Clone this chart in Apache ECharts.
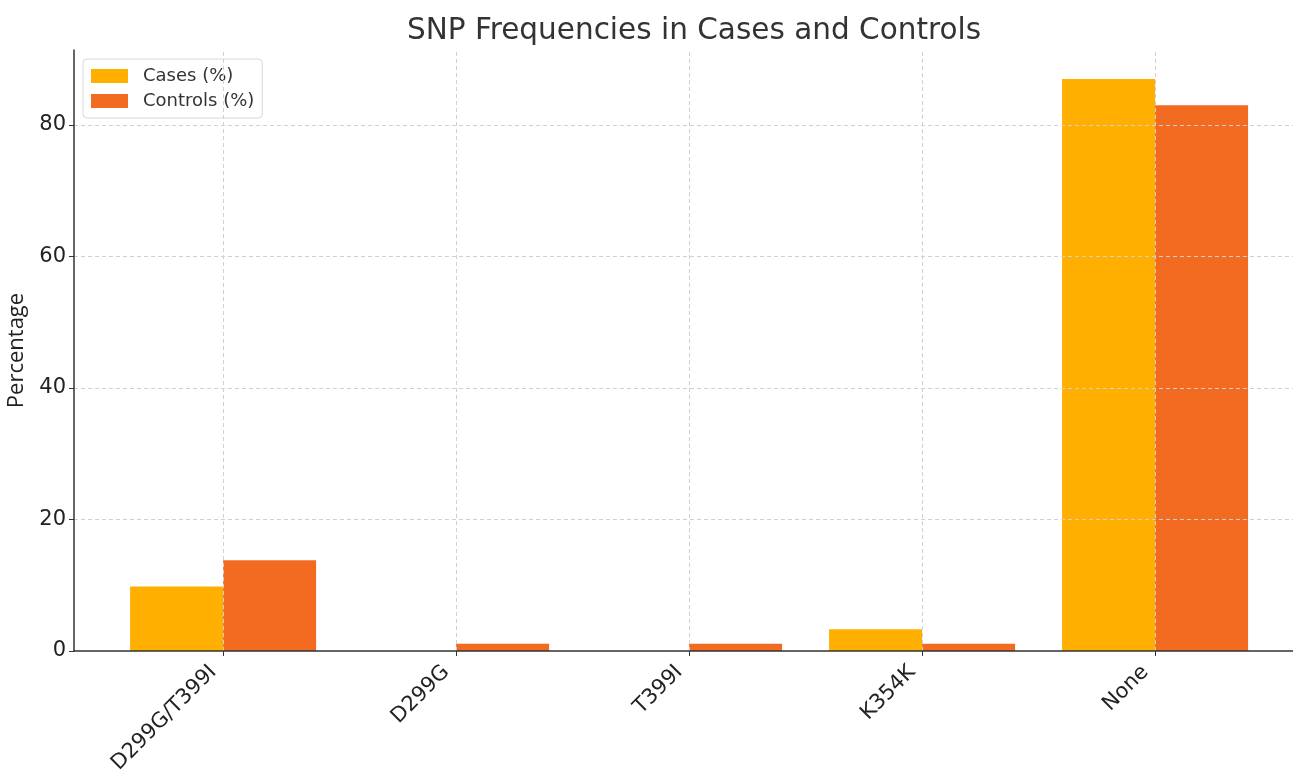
<!DOCTYPE html>
<html><head><meta charset="utf-8">
<script src="https://cdn.jsdelivr.net/npm/echarts@6/dist/echarts.min.js"></script>
<style>html,body{margin:0;padding:0;background:#fff}#c{width:1293px;height:773px}</style>
</head><body><div id="c"></div>
<script>
const categories = ['D299G/T399I', 'D299G', 'T399I', 'K354K', 'None'];
const casesPct = [9.8, 0, 0, 3.3, 87.0];
const controlsPct = [13.8, 1.1, 1.1, 1.1, 83.0];
const yTicks = [0, 20, 40, 60, 80];
const idx = categories.map((_, i) => i);
const F = 'DejaVu Sans';
const GRID = { color: '#d0d0d0', type: [4, 3], width: 1 };
const chart = echarts.init(document.getElementById('c'));
chart.setOption({
  animation: false,
  textStyle: { fontFamily: F },
  title: { text: 'SNP Frequencies in Cases and Controls', left: 689, top: 11, textAlign: 'center',
    textStyle: { fontFamily: F, fontSize: 29.5, fontWeight: 'normal', color: '#333' } },
  legend: { left: 83, top: 59, orient: 'vertical', itemWidth: 37, itemHeight: 14, itemGap: 7,
    icon: 'rect', padding: [8, 8, 8, 8], borderColor: '#d8d8d8', borderWidth: 1, borderRadius: 4,
    textStyle: { fontFamily: F, fontSize: 18, color: '#333', padding: [0, 0, 0, 10] },
    itemStyle: { borderWidth: 0 },
    data: ['Cases (%)', 'Controls (%)'] },
  grid: { left: 74, right: 0, top: 50, bottom: 122, containLabel: false, outerBoundsMode: 'none' },
  xAxis: { type: 'value', min: -0.64, max: 4.592, z: 5,
    axisLine: { onZero: false, lineStyle: { color: '#333', width: 1.5 } },
    axisTick: { show: true, customValues: idx, length: 5, lineStyle: { color: '#333' } },
    axisLabel: { customValues: idx, formatter: v => categories[Math.round(v)], rotate: 45,
      fontSize: 21, color: '#222', fontFamily: F, margin: 8, padding: [0, 14, 0, 0] },
    splitLine: { show: false } },
  yAxis: { type: 'value', min: 0, max: 91.4, z: 5,
    name: 'Percentage', nameLocation: 'middle', nameGap: 46, nameRotate: 90,
    nameTextStyle: { fontSize: 22, color: '#222', fontFamily: 'Open Sans' },
    axisLine: { show: true, onZero: false, lineStyle: { color: '#333', width: 1.5 } },
    axisTick: { show: true, customValues: yTicks, length: 5, lineStyle: { color: '#333' } },
    axisLabel: { customValues: yTicks, fontSize: 21, color: '#222', fontFamily: F, margin: 8 },
    splitLine: { show: false } },
  series: [
    { name: 'Cases (%)', type: 'bar', barWidth: 93, barGap: '0%', z: 2,
      itemStyle: { color: '#FFAF00' },
      data: casesPct.map((v, i) => [i, v]) },
    { name: 'Controls (%)', type: 'bar', barWidth: 93, barGap: '0%', z: 2,
      itemStyle: { color: '#F26B21' },
      data: controlsPct.map((v, i) => [i, v]) },
    { name: 'grid', type: 'scatter', data: [], symbolSize: 0, z: 6,
      markLine: { silent: true, symbol: 'none', label: { show: false },
        lineStyle: GRID,
        data: idx.map(i => ({ xAxis: i })).concat(yTicks.slice(1).map(v => ({ yAxis: v }))) } }
  ]
});
</script></body></html>
